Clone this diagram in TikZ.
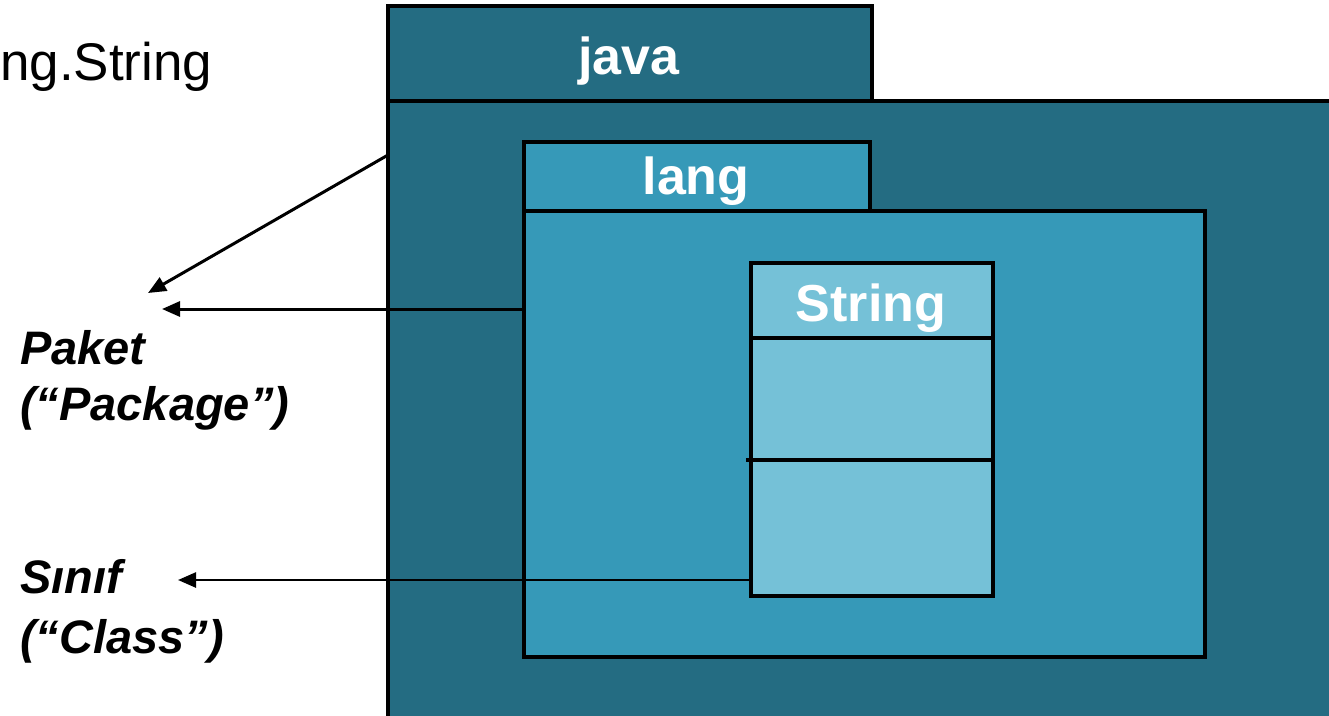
\documentclass[tikz,border=0pt]{standalone}
\usepackage{fontspec}
\setmainfont{Liberation Sans}
\usetikzlibrary{arrows.meta}
\definecolor{javac}{RGB}{36,108,130}
\definecolor{langc}{RGB}{54,153,184}
\definecolor{strc}{RGB}{117,193,215}
\tikzset{
  box/.style={draw=black, line width=3.5pt, anchor=north west, inner sep=0pt, outer sep=0pt, rectangle},
  title/.style={anchor=base, inner sep=0pt, text=white, font=\fontsize{52}{58}\selectfont\bfseries},
  side/.style={anchor=base west, inner sep=0pt, font=\fontsize{47}{52}\selectfont\bfseries\itshape},
  pointer/.style={draw=black, line width=3pt, -{Triangle[length=18pt,width=15pt]}}
}
\begin{document}
\begin{tikzpicture}[x=1pt,y=-1pt]
\useasboundingbox (0,0) rectangle (1329,715);
% java package
\node[box, fill=javac, minimum width=484pt, minimum height=95pt] (javatab) at (388,6) {};
\node[box, fill=javac, minimum width=1000pt, minimum height=700pt] (javabody) at (388,101) {};
% lang package
\node[box, fill=langc, minimum width=346pt, minimum height=69pt] (langtab) at (524,142) {};
\node[box, fill=langc, minimum width=681pt, minimum height=446pt] (langbody) at (524,211) {};
% String class
\node[box, fill=strc, minimum width=242pt, minimum height=75pt] (strhead) at (751,263) {};
\node[box, fill=strc, minimum width=242pt, minimum height=122pt] (strmid) at (751,338) {};
\node[box, fill=strc, minimum width=242pt, minimum height=136pt] (strbot) at (751,460) {};
\coordinate (tick) at (746,460);
\draw[line width=3.5pt] (tick) -- (strbot.north west);
% titles
\node[title] (javalbl) at (629,74) {java};
\node[title] (langlbl) at (696,194) {lang};
\node[title] (strlbl) at (871,321) {String};
\node[anchor=base west, inner sep=0pt, font=\fontsize{53}{58}\selectfont] (fqname) at (0,80) {ng.String};
% side labels
\node[side] (paket) at (20,364) {Paket};
\node[side] (paketen) at (20,420) {(“Package”)};
\node[side] (sinif) at (20,593) {Sınıf};
\node[side] (sinifen) at (20,653) {(“Class”)};
% connectors
\coordinate (a1s) at (388,155);
\coordinate (a1e) at (148,293);
\coordinate (a2s) at (524,309);
\coordinate (a2e) at (162,309);
\coordinate (a3s) at (751,580);
\coordinate (a3e) at (178,580);
\draw[pointer] (a1s) -- (a1e);
\draw[pointer] (a2s) -- (a2e);
\draw[pointer, line width=2.5pt] (a3s) -- (a3e);
\end{tikzpicture}
\end{document}
